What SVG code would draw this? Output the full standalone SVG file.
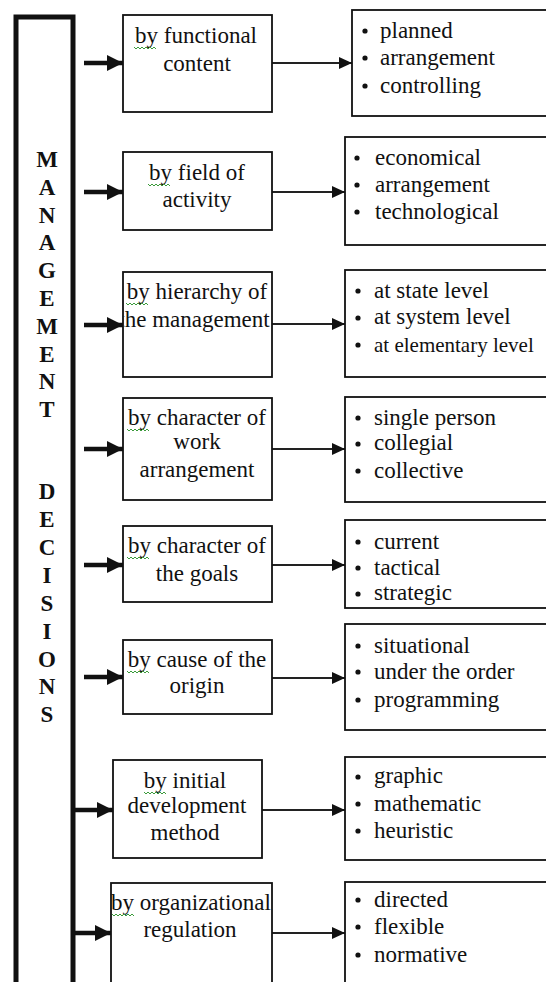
<svg xmlns="http://www.w3.org/2000/svg" width="546" height="982" viewBox="0 0 546 982">
<style>
.box{fill:#fff;stroke:#111;stroke-width:1.8}
.t{font-family:"Liberation Serif","Times New Roman",serif;font-size:23px;fill:#111}
.c{text-anchor:middle}
.big{font-family:"Liberation Serif","Times New Roman",serif;font-size:23px;font-weight:bold;fill:#111;text-anchor:middle}
.thick{stroke:#111;stroke-width:4.5;fill:none}
.thin{stroke:#222;stroke-width:1.8;fill:none}
.sq{stroke:#3a9a3a;stroke-width:1;fill:none}
.dot{fill:#111}
</style>
<defs>
<marker id="hk" viewBox="0 0 16 16" refX="16" refY="8" markerWidth="16" markerHeight="16" markerUnits="userSpaceOnUse" orient="auto"><path d="M0,0 L16,8 L0,16 Z" fill="#111"/></marker>
<marker id="hn" viewBox="0 0 13 12" refX="13" refY="6" markerWidth="13" markerHeight="12" markerUnits="userSpaceOnUse" orient="auto"><path d="M0,0 L13,6 L0,12 Z" fill="#111"/></marker>
<clipPath id="cb3"><rect x="124" y="273" width="147" height="103"/></clipPath>
</defs>
<rect width="546" height="982" fill="#fff"/>

<g id="main">
<rect x="16" y="17" width="57" height="980" fill="none" stroke="#111" stroke-width="5"/>
<text class="big" x="47" y="167">M</text>
<text class="big" x="47" y="195">A</text>
<text class="big" x="47" y="223">N</text>
<text class="big" x="47" y="250">A</text>
<text class="big" x="47" y="278">G</text>
<text class="big" x="47" y="306">E</text>
<text class="big" x="47" y="334">M</text>
<text class="big" x="47" y="362">E</text>
<text class="big" x="47" y="389">N</text>
<text class="big" x="47" y="417">T</text>
<text class="big" x="47" y="499">D</text>
<text class="big" x="47" y="527">E</text>
<text class="big" x="47" y="555">C</text>
<text class="big" x="47" y="583">I</text>
<text class="big" x="47" y="611">S</text>
<text class="big" x="47" y="639">I</text>
<text class="big" x="47" y="667">O</text>
<text class="big" x="47" y="694">N</text>
<text class="big" x="47" y="722">S</text>
</g>

<g id="connectors">
<line class="thick" x1="84" y1="63" x2="123" y2="63" marker-end="url(#hk)"/>
<line class="thick" x1="84" y1="192" x2="123" y2="192" marker-end="url(#hk)"/>
<line class="thick" x1="84" y1="325" x2="123" y2="325" marker-end="url(#hk)"/>
<line class="thick" x1="84" y1="449" x2="123" y2="449" marker-end="url(#hk)"/>
<line class="thick" x1="84" y1="565" x2="123" y2="565" marker-end="url(#hk)"/>
<line class="thick" x1="84" y1="677" x2="123" y2="677" marker-end="url(#hk)"/>
<line class="thick" x1="75" y1="810" x2="113" y2="810" marker-end="url(#hk)"/>
<line class="thick" x1="75" y1="933" x2="111" y2="933" marker-end="url(#hk)"/>
<line class="thin" x1="272" y1="63" x2="352" y2="63" marker-end="url(#hn)"/>
<line class="thin" x1="272" y1="192" x2="345" y2="192" marker-end="url(#hn)"/>
<line class="thin" x1="272" y1="324" x2="345" y2="324" marker-end="url(#hn)"/>
<line class="thin" x1="272" y1="449" x2="345" y2="449" marker-end="url(#hn)"/>
<line class="thin" x1="272" y1="565" x2="345" y2="565" marker-end="url(#hn)"/>
<line class="thin" x1="272" y1="678" x2="345" y2="678" marker-end="url(#hn)"/>
<line class="thin" x1="262" y1="810" x2="345" y2="810" marker-end="url(#hn)"/>
<line class="thin" x1="272" y1="933" x2="345" y2="933" marker-end="url(#hn)"/>
</g>

<g id="b1">
<rect class="box" x="123" y="15" width="149" height="97"/>
<text class="t c" x="196" y="43">by functional</text>
<text class="t c" x="197" y="71">content</text>
<path class="sq" d="M134,47 l2,2 l2,-2 l2,2 l2,-2 l2,2 l2,-2 l2,2 l2,-2 l2,2 l2,-2 l2,2"/>
</g>
<g id="b2">
<rect class="box" x="123" y="152" width="149" height="78"/>
<text class="t c" x="197" y="180">by field of</text>
<text class="t c" x="197" y="207">activity</text>
<path class="sq" d="M148,184 l2,2 l2,-2 l2,2 l2,-2 l2,2 l2,-2 l2,2 l2,-2 l2,2 l2,-2 l2,2"/>
</g>
<g id="b3">
<rect class="box" x="123" y="272" width="149" height="105"/>
<g clip-path="url(#cb3)">
<text class="t c" x="197" y="299">by hierarchy of</text>
<text class="t c" x="194" y="327">the management</text>
</g>
<path class="sq" d="M126,303 l2,2 l2,-2 l2,2 l2,-2 l2,2 l2,-2 l2,2 l2,-2 l2,2 l2,-2 l2,2"/>
</g>
<g id="b4">
<rect class="box" x="123" y="398" width="149" height="102"/>
<text class="t c" x="197" y="425">by character of</text>
<text class="t c" x="197" y="449">work</text>
<text class="t c" x="197" y="477">arrangement</text>
<path class="sq" d="M127,429 l2,2 l2,-2 l2,2 l2,-2 l2,2 l2,-2 l2,2 l2,-2 l2,2 l2,-2 l2,2"/>
</g>
<g id="b5">
<rect class="box" x="123" y="526" width="149" height="76"/>
<text class="t c" x="197" y="553">by character of</text>
<text class="t c" x="197" y="581">the goals</text>
<path class="sq" d="M127,557 l2,2 l2,-2 l2,2 l2,-2 l2,2 l2,-2 l2,2 l2,-2 l2,2 l2,-2 l2,2"/>
</g>
<g id="b6">
<rect class="box" x="123" y="640" width="149" height="74"/>
<text class="t c" x="197" y="667">by cause of the</text>
<text class="t c" x="197" y="693">origin</text>
<path class="sq" d="M127,671 l2,2 l2,-2 l2,2 l2,-2 l2,2 l2,-2 l2,2 l2,-2 l2,2 l2,-2 l2,2"/>
</g>
<g id="b7">
<rect class="box" x="113" y="760" width="149" height="98"/>
<text class="t c" x="185" y="788">by initial</text>
<text class="t c" x="187" y="813">development</text>
<text class="t c" x="185" y="840">method</text>
<path class="sq" d="M144,792 l2,2 l2,-2 l2,2 l2,-2 l2,2 l2,-2 l2,2 l2,-2 l2,2 l2,-2 l2,2"/>
</g>
<g id="b8">
<rect class="box" x="111" y="883" width="161" height="110"/>
<text class="t c" x="191" y="910">by organizational</text>
<text class="t c" x="190" y="937">regulation</text>
<path class="sq" d="M112,914 l2,2 l2,-2 l2,2 l2,-2 l2,2 l2,-2 l2,2 l2,-2 l2,2 l2,-2 l2,2"/>
</g>

<g id="r1">
<rect class="box" x="352" y="10" width="200" height="106"/>
<circle class="dot" cx="365" cy="31" r="2.6"/><text class="t" x="380" y="38">planned</text>
<circle class="dot" cx="365" cy="58" r="2.6"/><text class="t" x="380" y="65">arrangement</text>
<circle class="dot" cx="365" cy="86" r="2.6"/><text class="t" x="380" y="93">controlling</text>
</g>
<g id="r2">
<rect class="box" x="345" y="137" width="210" height="108"/>
<circle class="dot" cx="357" cy="158" r="2.6"/><text class="t" x="375" y="165">economical</text>
<circle class="dot" cx="357" cy="185" r="2.6"/><text class="t" x="375" y="192">arrangement</text>
<circle class="dot" cx="357" cy="212" r="2.6"/><text class="t" x="375" y="219">technological</text>
</g>
<g id="r3">
<rect class="box" x="345" y="270" width="210" height="107"/>
<circle class="dot" cx="358" cy="291" r="2.6"/><text class="t" x="374" y="298">at state level</text>
<circle class="dot" cx="358" cy="318" r="2.6"/><text class="t" x="374" y="324">at system level</text>
<circle class="dot" cx="358" cy="345" r="2.6"/><text class="t" x="374" y="352" style="font-size:21px">at elementary level</text>
</g>
<g id="r4">
<rect class="box" x="345" y="397" width="210" height="105"/>
<circle class="dot" cx="358" cy="418" r="2.6"/><text class="t" x="374" y="425">single person</text>
<circle class="dot" cx="358" cy="444" r="2.6"/><text class="t" x="374" y="450">collegial</text>
<circle class="dot" cx="358" cy="471" r="2.6"/><text class="t" x="374" y="478">collective</text>
</g>
<g id="r5">
<rect class="box" x="345" y="520" width="210" height="88"/>
<circle class="dot" cx="358" cy="542" r="2.6"/><text class="t" x="374" y="549">current</text>
<circle class="dot" cx="358" cy="568" r="2.6"/><text class="t" x="374" y="575">tactical</text>
<circle class="dot" cx="358" cy="594" r="2.6"/><text class="t" x="374" y="600">strategic</text>
</g>
<g id="r6">
<rect class="box" x="345" y="624" width="210" height="106"/>
<circle class="dot" cx="358" cy="646" r="2.6"/><text class="t" x="374" y="653">situational</text>
<circle class="dot" cx="358" cy="672" r="2.6"/><text class="t" x="374" y="679">under the order</text>
<circle class="dot" cx="358" cy="700" r="2.6"/><text class="t" x="374" y="707">programming</text>
</g>
<g id="r7">
<rect class="box" x="345" y="757" width="210" height="103"/>
<circle class="dot" cx="358" cy="777" r="2.6"/><text class="t" x="374" y="783">graphic</text>
<circle class="dot" cx="358" cy="804" r="2.6"/><text class="t" x="374" y="811">mathematic</text>
<circle class="dot" cx="358" cy="831" r="2.6"/><text class="t" x="374" y="838">heuristic</text>
</g>
<g id="r8">
<rect class="box" x="345" y="882" width="210" height="110"/>
<circle class="dot" cx="358" cy="900" r="2.6"/><text class="t" x="374" y="907">directed</text>
<circle class="dot" cx="358" cy="927" r="2.6"/><text class="t" x="374" y="934">flexible</text>
<circle class="dot" cx="358" cy="955" r="2.6"/><text class="t" x="374" y="962">normative</text>
</g>
</svg>
